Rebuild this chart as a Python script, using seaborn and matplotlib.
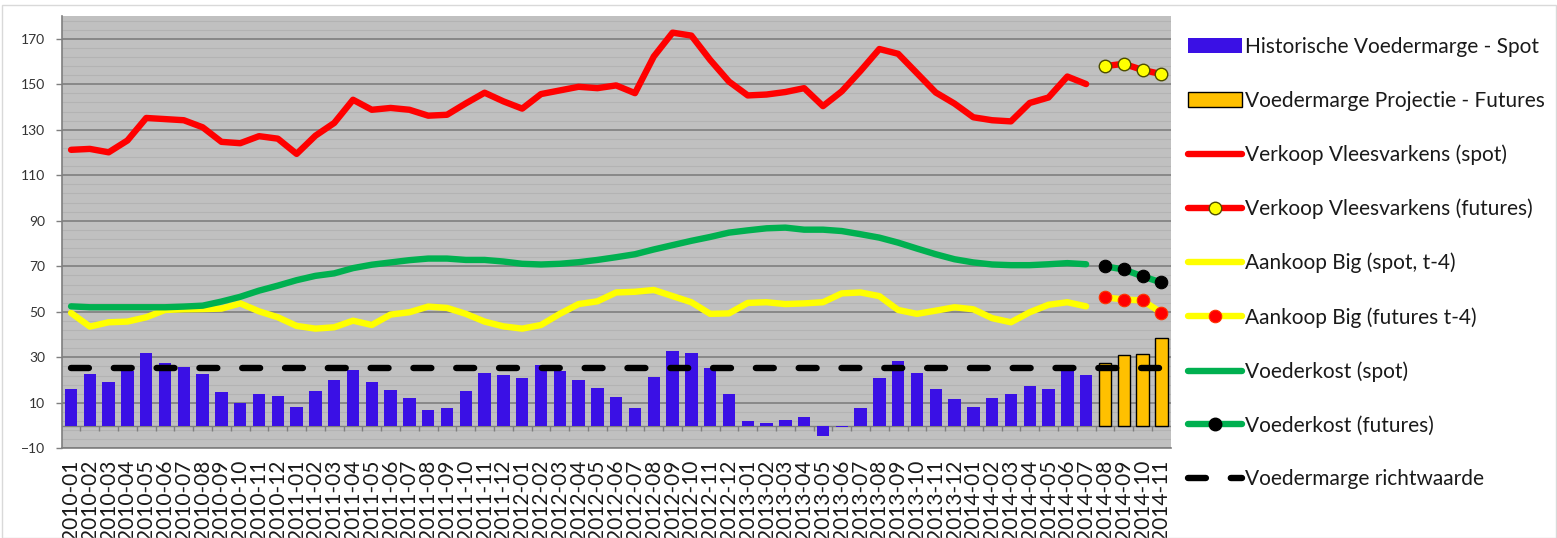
import numpy as np
import matplotlib
matplotlib.use("Agg")
import matplotlib.pyplot as plt
from matplotlib.lines import Line2D
from matplotlib.patches import Patch, Rectangle
import seaborn as sns

# Month labels on the category axis
months = [
  "2010-01", "2010-02", "2010-03", "2010-04", "2010-05", "2010-06", "2010-07", "2010-08", "2010-09", "2010-10", "2010-11", "2010-12",
  "2011-01", "2011-02", "2011-03", "2011-04", "2011-05", "2011-06", "2011-07", "2011-08", "2011-09", "2011-10", "2011-11", "2011-12",
  "2012-01", "2012-02", "2012-03", "2012-04", "2012-05", "2012-06", "2012-07", "2012-08", "2012-09", "2012-10", "2012-11", "2012-12",
  "2013-01", "2013-02", "2013-03", "2013-04", "2013-05", "2013-06", "2013-07", "2013-08", "2013-09", "2013-10", "2013-11", "2013-12",
  "2014-01", "2014-02", "2014-03", "2014-04", "2014-05", "2014-06", "2014-07", "2014-08", "2014-09", "2014-10", "2014-11",
]
n_spot = 55  # 2010-01 .. 2014-07 are spot, the rest futures

# Voedermarge (bars)
marge_spot = [
  16.2, 22.8, 19.3, 23.8, 31.8, 27.3, 25.7, 22.8, 14.7, 10.1, 13.7, 13.1, 8.2,
  15.2, 19.9, 24.5, 19.3, 15.8, 12.3, 6.7, 7.7, 15.2, 23.2, 22.2, 20.7, 26.7, 23.8, 20.1, 16.6,
  12.7, 7.7, 21.2, 32.7, 32.1, 25.5, 13.7, 1.8, 1.2, 2.3, 3.8, -4.7, -0.6, 7.7,
  20.7, 28.3, 23.2, 16.2, 11.7, 8.2, 12.3, 13.7, 17.2, 16.2, 23.8, 22.2,
]
marge_futures = [27.6, 31.0, 31.6, 38.6]

# Verkoop Vleesvarkens
verkoop_spot = [
  121.2, 121.6, 120.1, 125.3, 135.2, 134.7, 134.2, 131.1, 124.7, 124.1, 127.2, 126.1, 119.4,
  127.4, 133.0, 143.2, 138.8, 139.6, 138.8, 136.2, 136.6, 141.6, 146.3, 142.5, 139.3, 145.7, 147.3, 148.9, 148.3,
  149.5, 146.1, 162.2, 172.7, 171.4, 160.7, 151.2, 145.1, 145.5, 146.6, 148.3, 140.4, 146.9, 155.9,
  165.5, 163.4, 154.9, 146.4, 141.5, 135.5, 134.2, 133.7, 141.8, 144.2, 153.4, 150.1,
]
verkoop_futures = [158.0, 159.0, 156.3, 154.5]

# Aankoop Big (t-4)
big_spot = [
  49.5, 43.5, 45.4, 45.7, 47.6, 50.8, 51.1, 51.2, 51.4, 53.7, 50.2, 47.6, 43.8,
  42.6, 43.2, 46.1, 44.2, 48.8, 49.8, 52.3, 51.7, 49.1, 45.7, 43.6, 42.6, 44.2, 49.1, 53.4, 54.6,
  58.5, 58.8, 59.6, 56.9, 54.2, 49.1, 49.3, 53.9, 54.2, 53.4, 53.7, 54.2, 58.1, 58.5,
  56.9, 50.8, 49.1, 50.5, 52.0, 51.1, 47.2, 45.4, 49.8, 53.1, 54.2, 52.4,
]
big_futures = [56.4, 55.4, 55.0, 49.6]

# Voederkost
voederkost_spot = [
  52.4, 52.0, 52.0, 52.0, 52.0, 52.0, 52.3, 52.7, 54.5, 56.6, 59.3, 61.5, 63.9,
  65.8, 66.9, 69.2, 70.7, 71.7, 72.7, 73.4, 73.4, 72.8, 72.8, 72.1, 71.1, 70.8, 71.1, 71.8, 72.8,
  74.0, 75.3, 77.4, 79.3, 81.2, 82.9, 84.8, 85.8, 86.7, 87.0, 86.1, 86.1, 85.5, 84.1,
  82.6, 80.4, 77.8, 75.3, 73.1, 71.7, 70.8, 70.5, 70.5, 70.9, 71.4, 70.9,
]
voederkost_futures = [70.0, 68.6, 65.6, 62.9]

richtwaarde = 25.5

labels = [
  "Historische Voedermarge - Spot",
  "Voedermarge Projectie - Futures",
  "Verkoop Vleesvarkens (spot)",
  "Verkoop Vleesvarkens (futures)",
  "Aankoop Big (spot, t-4)",
  "Aankoop Big (futures t-4)",
  "Voederkost (spot)",
  "Voederkost (futures)",
  "Voedermarge richtwaarde",
]

BLUE = "#3a10e5"
ORANGE = "#ffc000"
RED = "#ff0000"
YELLOW = "#ffff00"
GREEN = "#00b050"
GRID = "#7f7f7f"
LW = 4.6


def draw_chart():
  sns.set_style("white")
  plt.rcParams["font.family"] = ["Lato", "DejaVu Sans"]

  fig = plt.figure(figsize=(15.57, 5.38), dpi=100)
  ax = fig.add_axes([0.0396, 0.1667, 0.7123, 0.8035])
  ax.set_facecolor("#c0c0c0")

  idx = np.arange(len(months))
  fut = idx[n_spot:]

  # Bars
  sns.barplot(x=months[:n_spot], y=marge_spot, order=months, color=BLUE,
              saturation=1, width=0.66, linewidth=0, ax=ax, zorder=2)
  sns.barplot(x=months[n_spot:], y=marge_futures, order=months, color=ORANGE,
              saturation=1, width=0.66, edgecolor="black", linewidth=1, ax=ax, zorder=2)

  # Target line
  ax.plot([idx[0], idx[-1]], [richtwaarde, richtwaarde], color="black", lw=LW,
          dashes=(2.8, 3.9), dash_capstyle="round", zorder=3)

  # Spot lines
  sns.lineplot(x=idx[:n_spot], y=verkoop_spot, color=RED, lw=LW, ax=ax, zorder=4)
  sns.lineplot(x=idx[:n_spot], y=big_spot, color=YELLOW, lw=LW, ax=ax, zorder=4)
  sns.lineplot(x=idx[:n_spot], y=voederkost_spot, color=GREEN, lw=LW, ax=ax, zorder=4)

  # Futures lines with markers
  sns.lineplot(x=fut, y=verkoop_futures, color=RED, lw=LW, marker="o", markersize=9,
               markerfacecolor=YELLOW, markeredgecolor="#4d4d00", markeredgewidth=1, ax=ax, zorder=5)
  sns.lineplot(x=fut, y=big_futures, color=YELLOW, lw=LW, marker="o", markersize=9,
               markerfacecolor=RED, markeredgecolor="#ff3300", markeredgewidth=0.8, ax=ax, zorder=5)
  sns.lineplot(x=fut, y=voederkost_futures, color=GREEN, lw=LW, marker="o", markersize=9,
               markerfacecolor="black", markeredgecolor="black", markeredgewidth=0.8, ax=ax, zorder=5)

  # Category axis crossing at zero, ticks between months
  ax.axhline(0, color=GRID, lw=1, zorder=1.5)
  ax.vlines(idx[1:] - 0.5, -2.2, 0, color=GRID, lw=1, zorder=1.5)

  # Axes
  ax.set_xlim(-0.5, len(months) - 0.5)
  ax.set_ylim(-10, 180)
  ax.set_yticks(np.arange(-10, 171, 20))
  ax.set_yticks([v for v in np.arange(-10, 180, 4) if (v + 10) % 20 != 0], minor=True)
  ax.grid(which="major", axis="y", color=GRID, lw=1.2, zorder=0)
  ax.grid(which="minor", axis="y", color="#b3b3b3", lw=0.8, zorder=0)
  ax.grid(axis="x", visible=False)
  ax.set_axisbelow(True)

  ax.set_xticks(idx)
  ax.set_xticklabels(months, rotation=90, fontsize=15, color="#1a1a1a")
  ax.tick_params(axis="x", length=0, pad=8.5)
  ax.tick_params(axis="y", which="major", direction="out", length=4, width=1, color=GRID,
                 labelsize=10, labelcolor="#333333", pad=8, left=True)
  ax.tick_params(axis="y", which="minor", length=0)
  ax.set_xlabel("")
  ax.set_ylabel("")

  for side in ["top", "right"]:
    ax.spines[side].set_visible(False)
  ax.spines["left"].set_color(GRID)
  ax.spines["bottom"].set_color(GRID)
  ax.spines["left"].set_linewidth(1.2)
  ax.spines["bottom"].set_linewidth(1.2)

  # Legend
  handles = [
    Patch(facecolor=BLUE, edgecolor="none"),
    Patch(facecolor=ORANGE, edgecolor="black", linewidth=1),
    Line2D([], [], color=RED, lw=LW, solid_capstyle="round"),
    Line2D([], [], color=RED, lw=LW, marker="o", markersize=9, markerfacecolor=YELLOW,
           markeredgecolor="#4d4d00", markeredgewidth=1, solid_capstyle="round"),
    Line2D([], [], color=YELLOW, lw=LW, solid_capstyle="round"),
    Line2D([], [], color=YELLOW, lw=LW, marker="o", markersize=9, markerfacecolor=RED,
           markeredgecolor="#ff3300", markeredgewidth=0.8, solid_capstyle="round"),
    Line2D([], [], color=GREEN, lw=LW, solid_capstyle="round"),
    Line2D([], [], color=GREEN, lw=LW, marker="o", markersize=9, markerfacecolor="black",
           markeredgecolor="black", solid_capstyle="round"),
    Line2D([], [], color="black", lw=LW, dashes=(2.8, 3.9), dash_capstyle="round"),
  ]
  fig.legend(handles, labels, loc="upper left", bbox_to_anchor=(1188 / 1557, 1 - 37 / 538),
             frameon=False, borderpad=0, borderaxespad=0, handlelength=2.6,
             handletextpad=0.15, labelspacing=1.615, fontsize=15, labelcolor="#1a1a1a")

  # Thin frame round the picture
  fig.patches.append(Rectangle((0.0015, 0), 0.998, 0.99, transform=fig.transFigure,
                               fill=False, edgecolor="#d9d9d9", lw=1))

  fig.savefig("out.png", dpi=100)


if __name__ == "__main__":
  draw_chart()
